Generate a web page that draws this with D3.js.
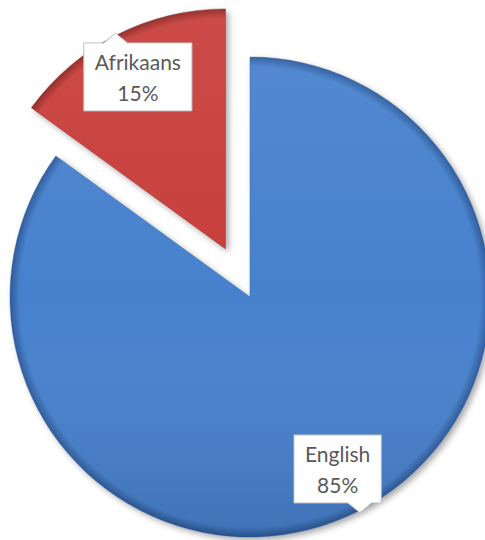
<!DOCTYPE html>
<html>
<head>
<meta charset="utf-8">
<script src="https://cdn.jsdelivr.net/npm/d3@7"></script>
<style>
  body { margin: 0; background: #fff; }
  svg { display: block; }
  .lbl { font-family: Lato, "Open Sans", sans-serif; font-size: 21px; fill: #595959; }
</style>
</head>
<body>
<svg width="485" height="540"></svg>
<script>
// chart data
var languages = ["English", "Afrikaans"];
var shares = [85, 15];
var sliceColors = [
    {mid: "#4781cd", dark: "#2d5a9a"},
    {mid: "#c8413d", dark: "#8c2623"}
];

var svg = d3.select("svg");
var cx = 250, cy = 297, radius = 240, explode = 54;

var defs = svg.append("defs");

var shadow = defs.append("filter").attr("id", "shadow")
    .attr("x", "-10%").attr("y", "-10%").attr("width", "130%").attr("height", "130%");
shadow.append("feGaussianBlur").attr("in", "SourceAlpha").attr("stdDeviation", 3);
shadow.append("feOffset").attr("dx", 3).attr("dy", 3).attr("result", "off");
shadow.append("feComponentTransfer").append("feFuncA").attr("type", "linear").attr("slope", 0.35);
var merge = shadow.append("feMerge");
merge.append("feMergeNode");
merge.append("feMergeNode").attr("in", "SourceGraphic");

var pie = d3.pie().sort(null).value(function(d){ return d; });
var arcs = pie(shares);

var arc = d3.arc().innerRadius(0).outerRadius(radius);
var tipArc = d3.arc().innerRadius(radius + 2).outerRadius(radius + 2);
var labelArc = d3.arc().innerRadius(193).outerRadius(193);

// gradients: radial from centre to rim for a bevel look, plus top-to-bottom shading
sliceColors.forEach(function(c, i){
    var rg = defs.append("radialGradient").attr("id", "rg" + i)
        .attr("gradientUnits", "userSpaceOnUse")
        .attr("cx", 0).attr("cy", 0).attr("r", radius);
    rg.append("stop").attr("offset", "0%").attr("stop-color", c.mid);
    rg.append("stop").attr("offset", "96%").attr("stop-color", c.mid);
    rg.append("stop").attr("offset", "100%").attr("stop-color", c.dark);
    var lg = defs.append("linearGradient").attr("id", "lg" + i)
        .attr("gradientUnits", "userSpaceOnUse")
        .attr("x1", 0).attr("y1", -radius).attr("x2", 0).attr("y2", radius);
    lg.append("stop").attr("offset", "0%").attr("stop-color", "#fff").attr("stop-opacity", 0.06);
    lg.append("stop").attr("offset", "50%").attr("stop-color", "#fff").attr("stop-opacity", 0);
    lg.append("stop").attr("offset", "100%").attr("stop-color", "#000").attr("stop-opacity", 0.12);
});

function offsetOf(d, i){
    if (i === 0) return [0, 0];
    var a = (d.startAngle + d.endAngle) / 2;
    return [Math.sin(a) * explode, -Math.cos(a) * explode];
}

var g = svg.append("g").attr("transform", "translate(" + cx + "," + cy + ")");

var slices = g.selectAll(".slice")
    .data(arcs)
    .enter().append("g")
    .attr("class", "slice")
    .attr("transform", function(d, i){ var o = offsetOf(d, i); return "translate(" + o[0] + "," + o[1] + ")"; });

slices.append("path")
    .attr("d", arc)
    .attr("fill", function(d, i){ return "url(#rg" + i + ")"; })
    .attr("filter", "url(#shadow)");

slices.append("path")
    .attr("d", arc)
    .attr("fill", function(d, i){ return "url(#lg" + i + ")"; })
    .attr("stroke", function(d, i){ return sliceColors[i].dark; })
    .attr("stroke-opacity", 0.4)
    .attr("stroke-width", 1);

// callout labels
slices.each(function(d, i){
    var s = d3.select(this);
    var c = labelArc.centroid(d);
    var tip = tipArc.centroid(d);
    var lab = s.append("g");
    var t = lab.append("text").attr("class", "lbl").attr("text-anchor", "middle");
    t.append("tspan").attr("x", c[0]).attr("y", c[1] - 7).text(languages[i]);
    t.append("tspan").attr("x", c[0]).attr("y", c[1] + 24).text(shares[i] + "%");
    var w = t.node().getBBox().width + 22, h = 68;
    var x0 = c[0] - w / 2, y0 = c[1] - h / 2, x1 = x0 + w, y1 = y0 + h;
    var bx = Math.max(x0 + 14, Math.min(x1 - 14, tip[0])), hb = 12;
    var p;
    if (tip[1] < y0) {
        p = "M" + x0 + "," + y0 + "L" + (bx - hb) + "," + y0 + "L" + tip[0] + "," + tip[1] +
            "L" + (bx + hb) + "," + y0 + "L" + x1 + "," + y0 + "L" + x1 + "," + y1 + "L" + x0 + "," + y1 + "Z";
    } else {
        p = "M" + x0 + "," + y0 + "L" + x1 + "," + y0 + "L" + x1 + "," + y1 + "L" + (bx + hb) + "," + y1 +
            "L" + tip[0] + "," + tip[1] + "L" + (bx - hb) + "," + y1 + "L" + x0 + "," + y1 + "Z";
    }
    lab.insert("path", "text")
        .attr("d", p)
        .attr("fill", "#fff")
        .attr("stroke", "#bfbfbf")
        .attr("stroke-width", 1);
});
</script>
</body>
</html>
